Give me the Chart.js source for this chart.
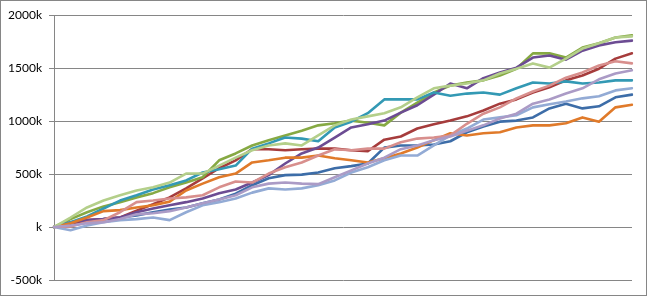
<!DOCTYPE html>
<html>
<head>
<meta charset="utf-8">
<script src="https://cdn.jsdelivr.net/npm/chart.js@4.4.0/dist/chart.umd.min.js"></script>
<style>
    html, body { margin: 0; padding: 0; background: #fff; }
    #wrap { width: 645px; height: 294px; border: 1px solid #868686; background: #fff; }
    canvas { display: block; }
</style>
</head>
<body>
<div id="wrap"><canvas id="chart" width="645" height="294"></canvas></div>
<script>
// values in k
const categories = Array.from({ length: 36 }, (_, i) => i + 1);
const yTicks = [-500, 0, 500, 1000, 1500, 2000];

const seriesBlue = [0, 15, 45, 75, 90, 110, 140, 165, 185, 225, 260, 315, 395, 460, 490, 495, 515, 555, 575, 600, 750, 770, 770, 780, 810, 895, 950, 995, 1005, 1035, 1120, 1165, 1120, 1140, 1225, 1250];
const seriesRed = [0, 15, 65, 75, 90, 155, 215, 280, 365, 460, 555, 630, 735, 735, 725, 735, 740, 740, 725, 715, 825, 855, 930, 970, 1005, 1045, 1100, 1165, 1205, 1270, 1320, 1385, 1430, 1495, 1590, 1640];
const seriesGreen = [0, 75, 140, 195, 235, 280, 320, 375, 420, 470, 630, 695, 770, 820, 865, 910, 960, 980, 1005, 985, 960, 1080, 1175, 1270, 1335, 1365, 1385, 1430, 1495, 1640, 1640, 1600, 1695, 1735, 1790, 1810];
const seriesPurple = [0, 45, 65, 75, 90, 140, 175, 205, 235, 270, 320, 355, 420, 490, 600, 695, 750, 845, 940, 970, 1005, 1080, 1150, 1250, 1355, 1310, 1405, 1460, 1505, 1600, 1620, 1580, 1665, 1715, 1745, 1760];
const seriesTeal = [0, 45, 100, 175, 250, 300, 355, 395, 440, 515, 545, 580, 740, 790, 845, 835, 810, 940, 995, 1075, 1205, 1205, 1205, 1270, 1240, 1260, 1270, 1250, 1310, 1365, 1355, 1375, 1355, 1365, 1385, 1385];
const seriesOrange = [0, 35, 90, 150, 160, 185, 205, 240, 345, 410, 470, 505, 610, 630, 655, 655, 675, 650, 630, 610, 650, 695, 750, 820, 885, 865, 885, 895, 940, 960, 960, 980, 1035, 995, 1130, 1155];
const seriesLightBlue = [0, -30, 15, 45, 65, 75, 90, 65, 140, 205, 235, 270, 325, 365, 355, 365, 395, 440, 515, 565, 630, 675, 675, 770, 865, 930, 1015, 1035, 1055, 1130, 1160, 1185, 1215, 1235, 1290, 1310];
const seriesPink = [0, 5, 45, 65, 140, 235, 250, 270, 280, 300, 375, 430, 420, 505, 565, 610, 675, 735, 725, 740, 740, 800, 835, 845, 865, 975, 1070, 1130, 1215, 1280, 1335, 1410, 1460, 1525, 1565, 1545];
const seriesLightGreen = [0, 90, 185, 250, 300, 345, 375, 420, 505, 505, 580, 655, 725, 770, 790, 770, 865, 960, 1015, 1045, 1075, 1130, 1225, 1310, 1335, 1355, 1385, 1450, 1495, 1545, 1505, 1590, 1685, 1735, 1790, 1800];
const seriesLightPurple = [0, 15, 35, 45, 75, 120, 130, 150, 185, 225, 260, 300, 375, 410, 420, 410, 405, 470, 535, 600, 655, 735, 770, 820, 855, 910, 960, 1025, 1070, 1165, 1205, 1260, 1310, 1395, 1450, 1480];

const seriesList = [
    { label: 'Series1', data: seriesBlue, color: '#3d6da8' },
    { label: 'Series2', data: seriesRed, color: '#a63c3c' },
    { label: 'Series3', data: seriesGreen, color: '#86a943' },
    { label: 'Series4', data: seriesPurple, color: '#6c4c93' },
    { label: 'Series5', data: seriesTeal, color: '#3399b4' },
    { label: 'Series6', data: seriesOrange, color: '#e07a2a' },
    { label: 'Series7', data: seriesLightBlue, color: '#93abd5' },
    { label: 'Series8', data: seriesPink, color: '#d88f8d' },
    { label: 'Series9', data: seriesLightGreen, color: '#b4cf8a' },
    { label: 'Series10', data: seriesLightPurple, color: '#ab9bc6' }
];

const gridGrey = '#868686';

new Chart(document.getElementById('chart'), {
    type: 'line',
    data: {
        labels: categories,
        datasets: seriesList.map(function(s, i) {
            return {
                label: s.label,
                data: s.data,
                borderColor: s.color,
                backgroundColor: s.color,
                borderWidth: 2.6,
                pointRadius: 0,
                tension: 0,
                fill: false,
                borderJoinStyle: 'round',
                borderCapStyle: 'round',
                order: seriesList.length - i
            };
        })
    },
    options: {
        responsive: false,
        animation: false,
        layout: { padding: { top: 13, right: 14, bottom: 15, left: 0 } },
        plugins: {
            legend: { display: false },
            title: { display: false },
            tooltip: { enabled: false }
        },
        scales: {
            x: {
                type: 'category',
                display: false,
                offset: false
            },
            y: {
                min: -500,
                max: 2000,
                afterBuildTicks: function(scale) {
                    scale.ticks = yTicks.map(v => ({ value: v }));
                },
                afterFit: function(scale) { scale.width = 53; },
                grid: { color: gridGrey, lineWidth: 1, drawTicks: true, tickLength: 5 },
                border: { display: true, color: gridGrey, width: 1 },
                ticks: {
                    padding: 7,
                    color: '#000',
                    font: { family: 'Lato', size: 12 },
                    callback: function(value) {
                        return value === 0 ? 'k' : value + 'k';
                    }
                }
            }
        }
    }
});
</script>
</body>
</html>
